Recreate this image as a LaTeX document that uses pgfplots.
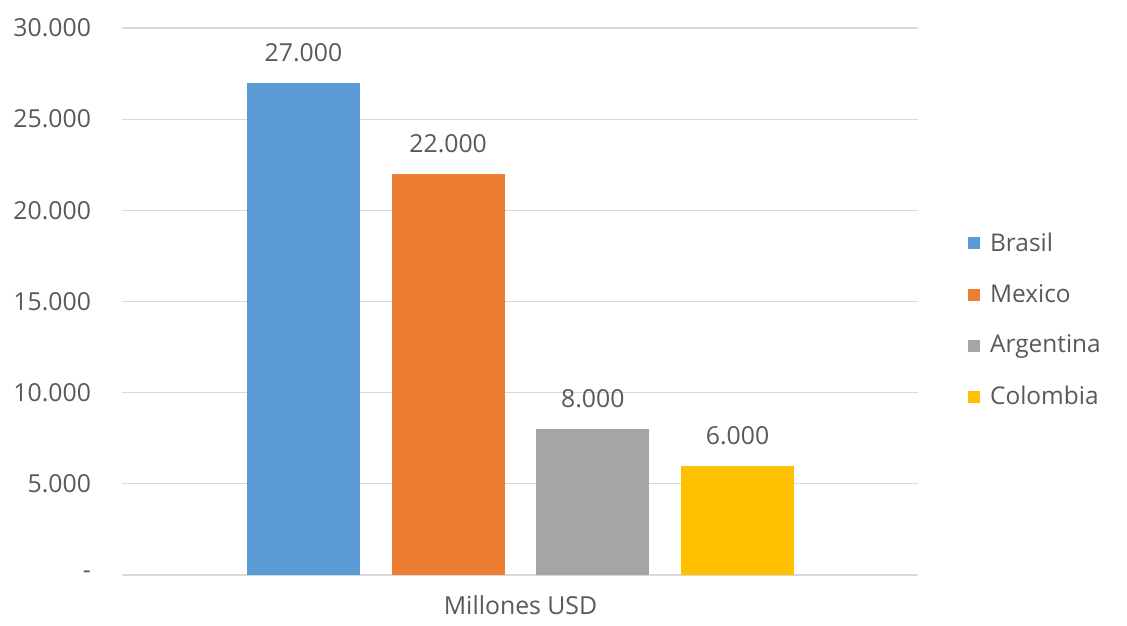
\documentclass[border=0pt]{standalone}
\usepackage{pgfplots}
\pgfplotsset{compat=1.18}
\usepackage{fontspec}
\setmainfont{Open Sans}
\definecolor{txt}{HTML}{595959}
\definecolor{gridc}{HTML}{D9D9D9}
\definecolor{cBR}{HTML}{5B9BD5}
\definecolor{cMX}{HTML}{ED7D31}
\definecolor{cAR}{HTML}{A5A5A5}
\definecolor{cCO}{HTML}{FFC000}
\begin{document}
\begin{tikzpicture}
\begin{axis}[
  at={(0pt,0pt)}, anchor=south west,
  scale only axis, width=398pt, height=273.5pt,
  xmin=-0.254, xmax=5.247, ymin=0, ymax=30000,
  scaled y ticks=false,
  ytick={0,5000,10000,15000,20000,25000,30000},
  yticklabels={-,5.000,10.000,15.000,20.000,25.000,30.000},
  xtick={2.5}, xticklabels={Millones USD},
  axis line style={draw=none},
  major tick length=0pt,
  ymajorgrids, grid style={gridc, line width=0.6pt},
  tick label style={text=txt, font=\fontsize{12.4}{15}\selectfont},
  yticklabel shift=12pt,
  xticklabel shift=7pt,
  ybar, bar width=0.78,
  point meta=explicit symbolic,
  nodes near coords,
  every node near coord/.append style={text=txt, font=\fontsize{12.4}{15}\selectfont, yshift=7pt},
  legend image code/.code={\fill[#1] (0pt,-3pt) rectangle (6pt,3pt); \path (0pt,0pt) (9pt,0pt);},
  legend style={at={(1.055,0.466)}, anchor=west, draw=none, fill=none,
    font=\fontsize{12.2}{15}\selectfont, text=txt, row sep=11pt,
    /tikz/every even column/.append style={column sep=0pt}},
  legend cell align=left,
]
\addplot[fill=cBR, draw=none, bar shift=0pt] coordinates {(1,27000) [27.000]};
\addplot[fill=cMX, draw=none, bar shift=0pt] coordinates {(2,22000) [22.000]};
\addplot[fill=cAR, draw=none, bar shift=0pt] coordinates {(3,8000) [8.000]};
\addplot[fill=cCO, draw=none, bar shift=0pt] coordinates {(4,6000) [6.000]};
\legend{Brasil,Mexico,Argentina,Colombia}
\end{axis}
\pgfresetboundingbox
\path[use as bounding box] (-61pt,-25pt) rectangle (502.5pt,287.5pt);
\end{tikzpicture}
\end{document}
